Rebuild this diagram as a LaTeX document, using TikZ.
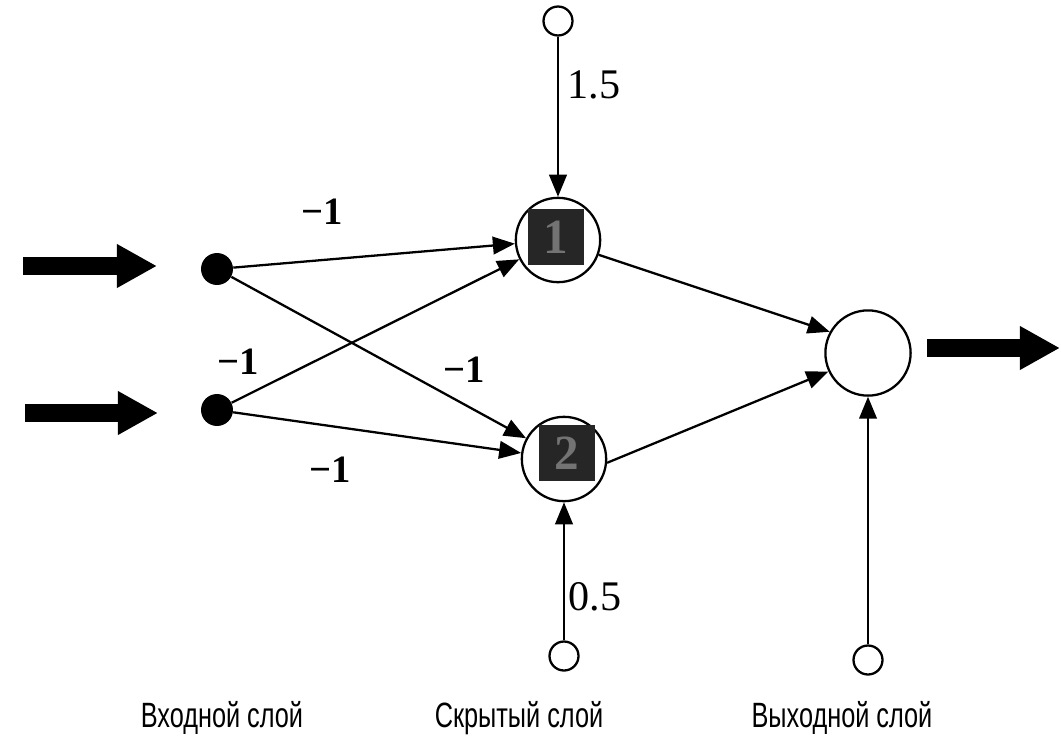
\documentclass[tikz,border=0pt]{standalone}
\usepackage{fontspec}
\setmainfont{Liberation Serif}
\newfontfamily\narrowsans[FakeStretch=0.72]{Liberation Sans}
\usetikzlibrary{arrows.meta}

\begin{document}
\begin{tikzpicture}[x=0.02cm,y=-0.02cm,
  wire/.style={line width=1.3pt,-{Triangle[length=12.5pt,width=10pt]}},
  bigarrow/.style={line width=10.2pt,-{Triangle[length=22.8pt,width=23.3pt]}},
  inputnode/.style={circle,fill=black,inner sep=0pt,minimum size=18.2pt},
  neuron/.style={circle,draw,line width=1.3pt,inner sep=0pt,minimum size=48pt},
  biasnode/.style={circle,draw,line width=1.3pt,inner sep=0pt,minimum size=16.5pt},
  unitbox/.style={rectangle,fill=black!85,text=black!55,inner sep=0pt,minimum size=32.4pt,
    font=\fontsize{28}{30}\selectfont\bfseries},
  weight/.style={font=\fontsize{22}{24}\selectfont\bfseries},
  biasw/.style={font=\fontsize{24}{26}\selectfont},
  layer/.style={anchor=base,font=\narrowsans\fontsize{20}{22}\selectfont}]
\useasboundingbox (0,0) rectangle (1061,737);

% input layer
\node[inputnode] (i1) at (217,269) {};
\node[inputnode] (i2) at (217,410) {};

% hidden layer
\node[neuron] (h1) at (558,240) {};
\node[unitbox] at (556,237) {1};
\node[neuron] (h2) at (564,459) {};
\node[unitbox] at (567,453) {2};

% output layer
\node[neuron,minimum size=48.5pt] (o) at (868,353) {};

% bias units
\node[biasnode] (b1) at (558,21) {};
\node[biasnode] (b2) at (564,656) {};
\node[biasnode] (b3) at (868,660) {};

% external inputs and output
\coordinate (a1s) at (23,266);  \coordinate (a1e) at (157,266);
\coordinate (a2s) at (25,413);  \coordinate (a2e) at (158,413);
\coordinate (a3s) at (927,348); \coordinate (a3e) at (1060,348);
\draw[bigarrow] (a1s) -- (a1e);
\draw[bigarrow] (a2s) -- (a2e);
\draw[bigarrow] (a3s) -- (a3e);

% weighted connections
\draw[wire] (i1) -- (h1);
\draw[wire] (i1) -- (h2);
\draw[wire] (i2) -- (h1);
\draw[wire] (i2) -- (h2);
\draw[wire] (h1.-20) -- (o.151);
\draw[wire] (h2.-5) -- (o.205);
\draw[wire] (b1) -- (h1);
\draw[wire] (b2) -- (h2);
\draw[wire] (b3) -- (o);

% weights
\node[weight] at (322,212) {−1};
\node[weight] at (238,362) {−1};
\node[weight] at (464,370) {−1};
\node[weight] at (330,470) {−1};
\node[biasw] at (594,85) {1.5};
\node[biasw] at (595,597) {0.5};

% layer captions
\node[layer] at (222,727) {Входной слой};
\node[layer] at (519,727) {Скрытый слой};
\node[layer] at (842,727) {Выходной слой};
\end{tikzpicture}
\end{document}
